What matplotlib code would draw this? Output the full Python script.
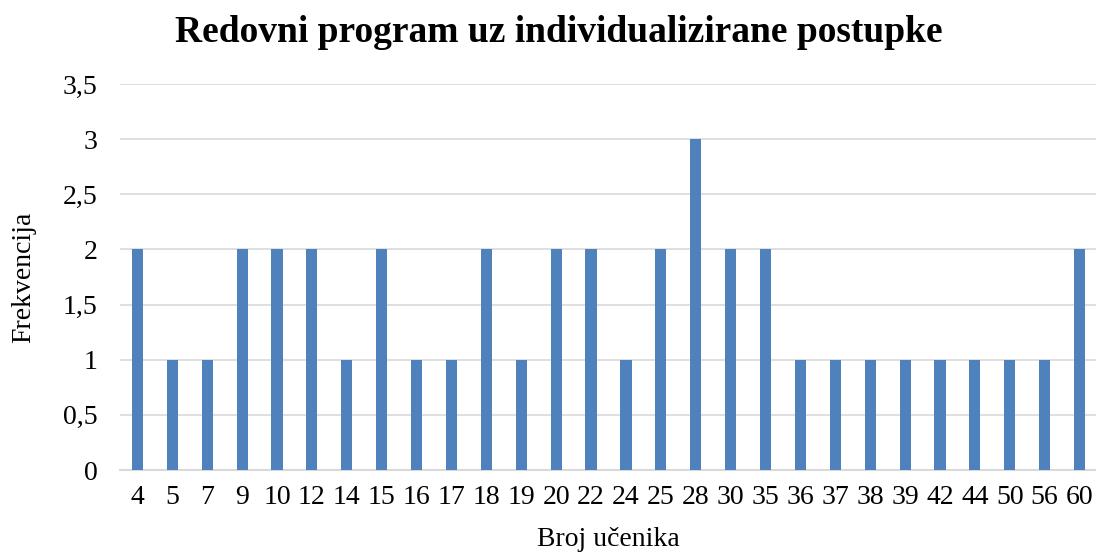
import matplotlib
matplotlib.use("Agg")
import matplotlib.pyplot as plt

categories = ["4", "5", "7", "9", "10", "12", "14", "15", "16", "17", "18", "19", "20", "22",
              "24", "25", "28", "30", "35", "36", "37", "38", "39", "42", "44", "50", "56", "60"]
values = [2, 1, 1, 2, 2, 2, 1, 2, 1, 1, 2, 1, 2, 2, 1, 2, 3, 2, 2, 1, 1, 1, 1, 1, 1, 1, 1, 2]
yticks = [0, 0.5, 1, 1.5, 2, 2.5, 3, 3.5]
ytick_labels = ["0", "0,5", "1", "1,5", "2", "2,5", "3", "3,5"]

plt.rcParams['font.family'] = ['Liberation Serif', 'DejaVu Serif']

fig = plt.figure(figsize=(10.96, 5.53), dpi=100)
ax = fig.add_axes([120 / 1096, 1 - 470 / 553, (1097 - 120) / 1096, (470 - 84) / 553])

x = list(range(len(categories)))
ax.bar(x, values, width=0.32, color="#4F81BD", zorder=3)
ax.set_xlim(-0.5, len(categories) - 0.5)
ax.set_ylim(0, 3.5)
ax.set_yticks(yticks)
ax.set_yticklabels(ytick_labels, fontsize=20)
ax.set_xticks(x)
ax.set_xticklabels(categories, fontsize=20)
ax.yaxis.grid(True, color="#D9D9D9", linewidth=1.2, zorder=0)
ax.set_axisbelow(True)
for s in ["left", "right", "top"]:
    ax.spines[s].set_visible(False)
ax.spines["bottom"].set_color("#D9D9D9")
ax.spines["bottom"].set_linewidth(1.5)
ax.tick_params(axis="both", length=0)
ax.tick_params(axis="y", pad=16)
ax.tick_params(axis="x", pad=11)
ax.set_xlabel("Broj učenika", fontsize=20, labelpad=12)
ax.set_ylabel("Frekvencija", fontsize=20, labelpad=19)
fig.suptitle("Redovni program uz individualizirane postupke", fontsize=27, fontweight="bold",
             x=559 / 1096, y=1 - 15 / 553, va="top")

fig.savefig("out.png", dpi=100)
